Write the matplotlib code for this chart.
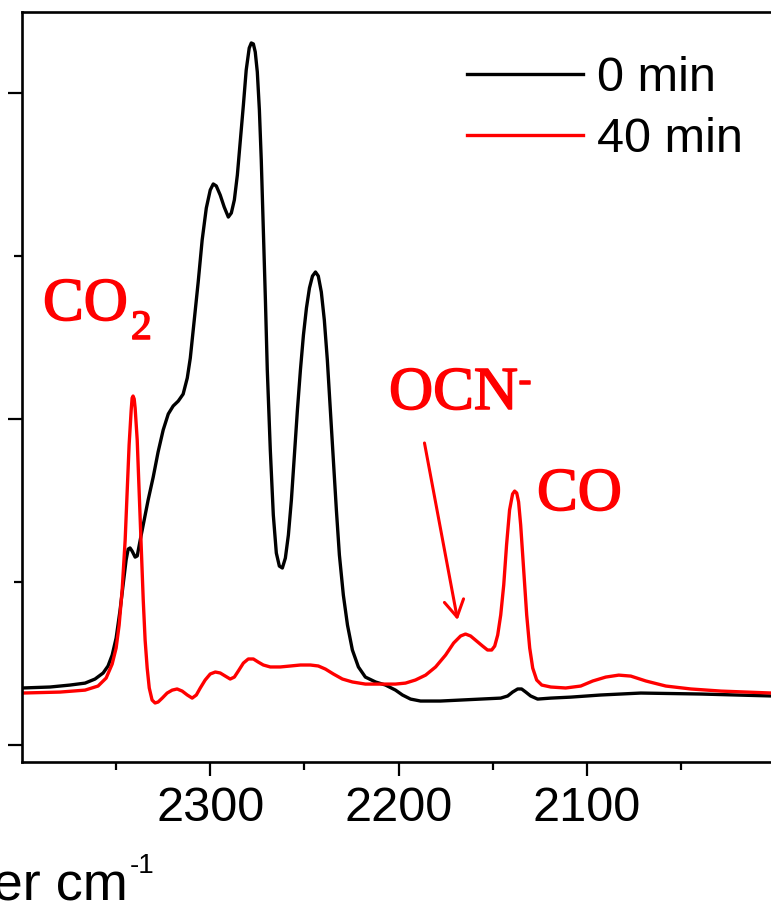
import matplotlib
matplotlib.use("Agg")
import matplotlib.pyplot as plt
import matplotlib.patheffects as pe

# ---- data (wavenumber cm^-1, absorbance a.u.) ----
wn_0min = [2400.0, 2385.1, 2374.5, 2366.5, 2361.2, 2356.9, 2354.3, 2352.1, 2350.0, 2347.9,
           2346.3, 2344.7, 2343.6, 2342.6, 2341.5, 2339.9, 2338.8, 2337.2, 2335.1, 2333.0,
           2330.3, 2327.7, 2325.0, 2322.3, 2319.7, 2317.0, 2314.4, 2312.2, 2310.6, 2308.5,
           2306.4, 2304.3, 2302.1, 2300.0, 2298.4, 2296.8, 2294.7, 2292.6, 2290.4, 2288.8,
           2287.2, 2285.6, 2284.0, 2282.4, 2280.9, 2279.3, 2278.2, 2277.1, 2276.1, 2275.0,
           2273.9, 2272.9, 2271.8, 2270.7, 2269.7, 2268.1, 2266.5, 2264.9, 2263.3, 2261.7,
           2260.1, 2258.5, 2256.9, 2255.3, 2253.7, 2252.1, 2250.5, 2248.9, 2247.3, 2245.7,
           2244.1, 2242.6, 2241.0, 2239.4, 2237.8, 2236.2, 2234.6, 2233.0, 2231.4, 2229.3,
           2227.1, 2224.5, 2221.3, 2217.6, 2212.2, 2206.9, 2201.6, 2197.9, 2193.6, 2188.3,
           2177.7, 2156.4, 2145.7, 2142.0, 2139.4, 2136.7, 2134.6, 2132.4, 2129.8, 2126.1,
           2119.1, 2108.5, 2092.6, 2071.3, 2039.4, 2001.6]
abs_0min = [0.0350, 0.0356, 0.0368, 0.0380, 0.0405, 0.0442, 0.0485, 0.0552, 0.0656, 0.0828,
            0.0982, 0.1135, 0.1202, 0.1209, 0.1190, 0.1153, 0.1160, 0.1258, 0.1380, 0.1503,
            0.1644, 0.1798, 0.1933, 0.2031, 0.2080, 0.2110, 0.2153, 0.2252, 0.2374, 0.2607,
            0.2841, 0.3098, 0.3294, 0.3405, 0.3442, 0.3430, 0.3374, 0.3301, 0.3239, 0.3264,
            0.3344, 0.3497, 0.3712, 0.3926, 0.4141, 0.4276, 0.4307, 0.4301, 0.4252, 0.4129,
            0.3896, 0.3589, 0.3160, 0.2730, 0.2301, 0.1810, 0.1411, 0.1178, 0.1098, 0.1086,
            0.1147, 0.1288, 0.1503, 0.1779, 0.2055, 0.2301, 0.2515, 0.2681, 0.2804, 0.2877,
            0.2902, 0.2877, 0.2779, 0.2607, 0.2362, 0.2055, 0.1748, 0.1442, 0.1166, 0.0920,
            0.0736, 0.0583, 0.0479, 0.0417, 0.0387, 0.0368, 0.0337, 0.0307, 0.0282, 0.0270,
            0.0270, 0.0282, 0.0288, 0.0301, 0.0325, 0.0344, 0.0344, 0.0325, 0.0301, 0.0282,
            0.0288, 0.0294, 0.0307, 0.0319, 0.0313, 0.0301]

wn_40min = [2400.0, 2379.8, 2366.5, 2359.6, 2355.3, 2352.1, 2350.0, 2348.4, 2346.8, 2345.2,
            2344.1, 2343.1, 2342.0, 2341.5, 2341.0, 2340.4, 2339.9, 2338.8, 2337.8, 2336.7,
            2335.6, 2334.6, 2333.5, 2332.4, 2330.9, 2329.3, 2327.7, 2325.5, 2322.9, 2320.2,
            2317.6, 2314.9, 2312.2, 2309.6, 2307.4, 2305.3, 2302.7, 2300.0, 2297.3, 2294.7,
            2292.0, 2289.4, 2287.2, 2285.1, 2282.4, 2279.8, 2277.1, 2274.5, 2271.8, 2268.1,
            2262.8, 2257.4, 2252.1, 2246.8, 2242.6, 2238.8, 2234.6, 2229.8, 2224.5, 2217.6,
            2209.6, 2201.6, 2196.3, 2191.0, 2185.6, 2180.3, 2175.0, 2170.7, 2167.0, 2164.4,
            2161.7, 2158.5, 2155.3, 2152.7, 2150.5, 2148.9, 2147.3, 2145.7, 2144.1, 2142.6,
            2141.0, 2139.4, 2138.3, 2137.2, 2136.2, 2135.1, 2133.5, 2131.9, 2130.3, 2128.7,
            2126.6, 2123.9, 2119.1, 2111.2, 2103.2, 2096.8, 2089.9, 2083.0, 2076.6, 2068.6,
            2058.0, 2044.7, 2028.7, 2001.6]
abs_40min = [0.0319, 0.0325, 0.0337, 0.0362, 0.0411, 0.0497, 0.0595, 0.0736, 0.0951, 0.1258,
             0.1564, 0.1841, 0.2055, 0.2129, 0.2141, 0.2123, 0.2067, 0.1871, 0.1564, 0.1227,
             0.0890, 0.0644, 0.0472, 0.0350, 0.0276, 0.0258, 0.0264, 0.0288, 0.0319, 0.0337,
             0.0344, 0.0331, 0.0307, 0.0288, 0.0307, 0.0350, 0.0399, 0.0436, 0.0448, 0.0442,
             0.0423, 0.0405, 0.0417, 0.0454, 0.0503, 0.0528, 0.0528, 0.0509, 0.0491, 0.0479,
             0.0479, 0.0485, 0.0491, 0.0491, 0.0485, 0.0466, 0.0436, 0.0405, 0.0387, 0.0374,
             0.0374, 0.0374, 0.0380, 0.0399, 0.0429, 0.0479, 0.0552, 0.0626, 0.0669, 0.0681,
             0.0669, 0.0638, 0.0607, 0.0583, 0.0583, 0.0607, 0.0675, 0.0798, 0.0982, 0.1227,
             0.1442, 0.1540, 0.1558, 0.1546, 0.1491, 0.1350, 0.1074, 0.0798, 0.0595, 0.0472,
             0.0399, 0.0368, 0.0356, 0.0350, 0.0362, 0.0393, 0.0417, 0.0429, 0.0423, 0.0393,
             0.0362, 0.0344, 0.0331, 0.0319]

series_labels = ["0 min", "40 min"]
x_major = [2300, 2200, 2100]
x_minor = [2350, 2250, 2150, 2050]
y_major = [0.0, 0.2, 0.4]
y_minor = [0.1, 0.3]
arrow_tip = (2168.6, 0.0767)
arrow_tail = (2186.2, 0.1853)

W, H = 771, 909
fig = plt.figure(figsize=(W / 100, H / 100), dpi=100)
ax = fig.add_axes([22 / W, 1 - 762 / H, (775 - 22) / W, (762 - 12) / H])

ax.plot(wn_0min, abs_0min, color="black", lw=2.4, label=series_labels[0],
        solid_joinstyle="round")
ax.plot(wn_40min, abs_40min, color="#ff0000", lw=2.4, label=series_labels[1],
        solid_joinstyle="round")

ax.set_xlim(2400, 2000)
ax.set_ylim(-0.0104, 0.4497)

ax.set_xticks(x_major)
ax.set_xticks(x_minor, minor=True)
ax.set_yticks(y_major)
ax.set_yticks(y_minor, minor=True)
ax.set_yticklabels([])
for s in ax.spines.values():
    s.set_linewidth(1.9)
ax.tick_params(axis="both", which="major", direction="out", length=10, width=1.6)
ax.tick_params(axis="both", which="minor", direction="out", length=5.5, width=1.6)
ax.tick_params(axis="x", which="major", pad=7, labelsize=35)
for lab in ax.get_xticklabels():
    lab.set_fontfamily("Liberation Sans")

leg = ax.legend(loc="upper left", bbox_to_anchor=(467 / W, 1 - 56 / H),
                bbox_transform=fig.transFigure, frameon=False, borderpad=0,
                borderaxespad=0, handlelength=2.39, handletextpad=0.29,
                labelspacing=0.33, prop={"family": "Liberation Sans", "size": 35})
for line in leg.get_lines():
    line.set_linewidth(2.4)

red = "#ff0000"
serif = "Liberation Serif"
thick = [pe.withStroke(linewidth=1.1, foreground=red)]
def ftext(px, py, s, size):
    fig.text(px / W, 1 - py / H, s, fontsize=size, family=serif, color=red,
             va="baseline", ha="left", path_effects=thick)

ftext(43, 320, "CO", 44)
ftext(131, 339, "2", 30)
ftext(389, 409, "OCN", 44)
ftext(518, 392, "-", 30)
ftext(537, 510, "CO", 44)

ax.annotate("", xy=arrow_tip, xytext=arrow_tail,
            arrowprops=dict(arrowstyle="->,head_length=0.6,head_width=0.35",
                            color=red, lw=2.2, mutation_scale=20, shrinkA=0, shrinkB=0))

fig.text(128 / W, 1 - 900 / H, "Wavenumber cm", fontsize=39, family="Liberation Sans",
         ha="right", va="baseline")
fig.text(130 / W, 1 - 873 / H, "-1", fontsize=20, family="Liberation Sans",
         ha="left", va="baseline")

fig.savefig("out.png", dpi=100)
